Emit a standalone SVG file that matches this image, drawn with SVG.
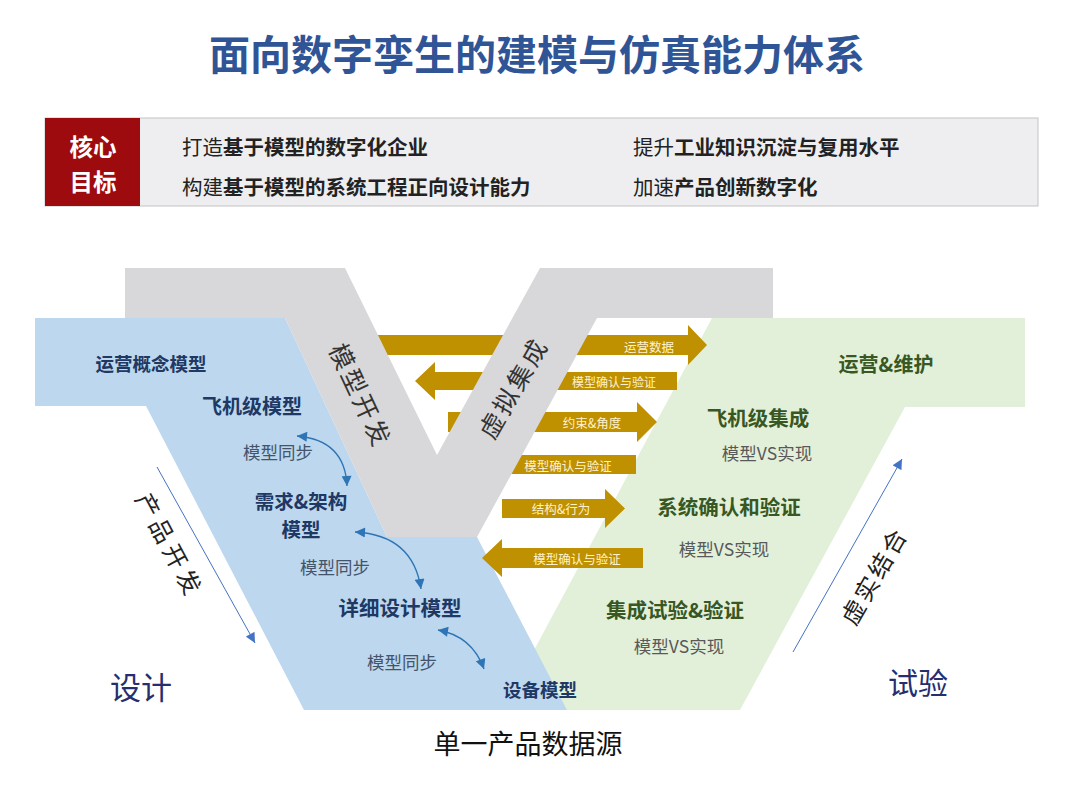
<svg xmlns="http://www.w3.org/2000/svg" width="1080" height="799" viewBox="0 0 1080 799">
<style>
text{font-family:"Noto Sans CJK SC","Liberation Sans",sans-serif;dominant-baseline:central;text-anchor:middle}
.b{font-weight:bold}
.bt{fill:#203864;font-weight:bold}
.gt{fill:#385723;font-weight:bold}
.sync{fill:#44546A;font-size:17.5px}
.vs{fill:#595959;font-size:17.5px}
.gl{fill:#FFF2CC;font-size:12.5px}
.gold{fill:#BF9000}
.curve{fill:none;stroke:#2E75B6;stroke-width:1.3}
.axis{fill:none;stroke:#4472C4;stroke-width:1}
</style>
<defs>
<marker id="ah" viewBox="0 0 10 10" refX="10" refY="5" markerWidth="11" markerHeight="10" markerUnits="userSpaceOnUse" orient="auto-start-reverse"><path d="M0,0 L10,5 L0,10 z" fill="#2E75B6"/></marker>
<marker id="ah2" viewBox="0 0 10 10" refX="10" refY="5" markerWidth="11" markerHeight="10" markerUnits="userSpaceOnUse" orient="auto"><path d="M0,0 L10,5 L0,10 z" fill="#4472C4"/></marker>
</defs>
<rect width="1080" height="799" fill="#ffffff"/>

<g id="title"><text x="537" y="52" class="b" font-size="41" fill="#2F5597">面向数字孪生的建模与仿真能力体系</text></g>

<g id="goals">
<rect x="45" y="118" width="993" height="88" fill="#EEEEF0" stroke="#C4C4C4" stroke-width="1"/>
<rect x="45" y="118" width="95" height="88" fill="#9E0B0F"/>
<text x="93" y="146" class="b" font-size="23.5" fill="#ffffff">核心</text>
<text x="93" y="181" class="b" font-size="23.5" fill="#ffffff">目标</text>
<text x="182" y="146" font-size="20.5" fill="#222" style="text-anchor:start">打造<tspan class="b">基于模型的数字化企业</tspan></text>
<text x="182" y="186" font-size="20.5" fill="#222" style="text-anchor:start">构建<tspan class="b">基于模型的系统工程正向设计能力</tspan></text>
<text x="633" y="146" font-size="20.5" fill="#222" style="text-anchor:start">提升<tspan class="b">工业知识沉淀与复用水平</tspan></text>
<text x="633" y="186" font-size="20.5" fill="#222" style="text-anchor:start">加速<tspan class="b">产品创新数字化</tspan></text>
</g>

<g id="test-region"><polygon points="712,318 1025,318 1025,407 905,407 740,710 502,710" fill="#E2F0D9"/></g>
<g id="design-region"><polygon points="35,318 285,318 387,537 477,537 567,710 304,710 146,406 35,406" fill="#BDD7EE"/></g>

<g id="connectors">
<polygon class="gold" points="360,335 688,335 688,325 707,345 688,365 688,355 360,355"/>
<polygon class="gold" points="415,381 435,362 435,372 677,372 677,390 435,390 435,400"/>
<polygon class="gold" points="448,412 637,412 637,402 657,422 637,442 637,432 448,432"/>
<polygon class="gold" points="450,464.5 470,445 470,455 636,455 636,474 470,474 470,484"/>
<polygon class="gold" points="502,499 605,499 605,489 625,508.5 605,528 605,518 502,518"/>
<polygon class="gold" points="482,558 502,539 502,548 643,548 643,568 502,568 502,577"/>
<path class="curve" d="M297,436 Q345,440 347,486" marker-start="url(#ah)" marker-end="url(#ah)"/>
<path class="curve" d="M355,532 Q413,535 421,589" marker-start="url(#ah)" marker-end="url(#ah)"/>
<path class="curve" d="M438,630 Q472,636 484,669" marker-start="url(#ah)" marker-end="url(#ah)"/>
<line class="axis" x1="157" y1="467" x2="255" y2="643" marker-end="url(#ah2)"/>
<line class="axis" x1="793" y1="652" x2="902" y2="459" marker-end="url(#ah2)"/>
</g>

<g id="model-bands"><polygon points="125,268 345,268 437,455 540,268 773,268 773,318 597,318 477,537 387,537 285,318 125,318" fill="#D8D8DA"/></g>

<g id="arrow-labels">
<text x="649" y="346" class="gl" font-size="13">运营数据</text>
<text x="614" y="381" class="gl" style="font-size:12px">模型确认与验证</text>
<text x="592" y="422" class="gl">约束&amp;角度</text>
<text x="568" y="465" class="gl">模型确认与验证</text>
<text x="561" y="508" class="gl">结构&amp;行为</text>
<text x="577" y="558" class="gl">模型确认与验证</text>
</g>

<g id="band-labels">
<text transform="translate(362,395) rotate(65)" font-size="25" letter-spacing="3" fill="#333">模型开发</text>
<text transform="translate(512,387) rotate(-60)" font-size="25" letter-spacing="3" fill="#333">虚拟集成</text>
</g>

<g id="node-ops-concept"><text x="151" y="363" class="bt" font-size="18.5">运营概念模型</text></g>
<g id="node-aircraft-model"><text x="252" y="405" class="bt" font-size="20">飞机级模型</text></g>
<g id="sync1"><text x="278" y="451" class="sync">模型同步</text></g>
<g id="node-req-arch"><text x="301" y="500" class="bt" font-size="19.5">需求&amp;架构</text><text x="301" y="528" class="bt" font-size="19.5">模型</text></g>
<g id="sync2"><text x="335" y="566" class="sync">模型同步</text></g>
<g id="node-detail"><text x="400" y="607" class="bt" font-size="20.5">详细设计模型</text></g>
<g id="sync3"><text x="402" y="661" class="sync">模型同步</text></g>
<g id="node-equipment"><text x="540" y="689" class="bt" font-size="18.5">设备模型</text></g>

<g id="node-ops-maint"><text x="886" y="363" class="gt" font-size="20">运营&amp;维护</text></g>
<g id="node-aircraft-int"><text x="758" y="417" class="gt" font-size="20.5">飞机级集成</text><text x="767" y="452" class="vs">模型VS实现</text></g>
<g id="node-sys-vv"><text x="729" y="506" class="gt" font-size="20.5">系统确认和验证</text><text x="724" y="548" class="vs">模型VS实现</text></g>
<g id="node-int-test"><text x="675" y="609" class="gt" font-size="20.5">集成试验&amp;验证</text><text x="679" y="645" class="vs">模型VS实现</text></g>

<g id="axis-labels">
<text transform="translate(171,545) rotate(62)" font-size="24" letter-spacing="5" fill="#222">产品开发</text>
<text transform="translate(873,575) rotate(-60)" font-size="24" letter-spacing="3" fill="#222">虚实结合</text>
<text x="141" y="685" font-size="31" fill="#262E6E">设计</text>
<text x="918" y="681" font-size="30" fill="#262E6E">试验</text>
<text x="528" y="742" font-size="27" fill="#111">单一产品数据源</text>
</g>
</svg>
